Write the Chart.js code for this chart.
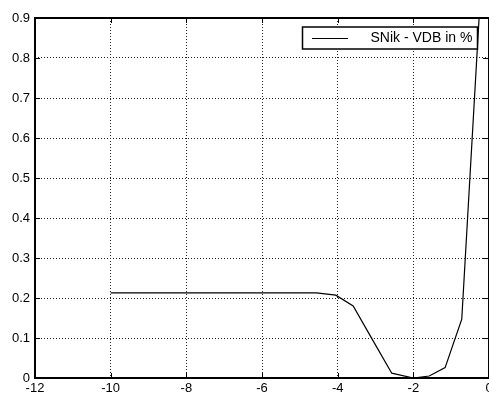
<!DOCTYPE html>
<html>
<head>
<meta charset="utf-8">
<script src="https://cdn.jsdelivr.net/npm/chart.js@4.4.0/dist/chart.umd.min.js"></script>
<style>
  html, body { margin: 0; padding: 0; background: #fff; }
  #wrap { width: 489px; height: 395px; position: relative; }
</style>
</head>
<body>
<div id="wrap"><canvas id="chart"></canvas></div>
<script>
// values
const seriesLabel = 'SNik - VDB in %';
const xValues = [-10, -9, -8, -7, -6, -5, -4.56, -4.05, -3.59, -3.1, -2.57, -2.0, -1.58, -1.16, -0.72, -0.25];
const yValues = [0.213, 0.213, 0.213, 0.213, 0.213, 0.213, 0.213, 0.207, 0.18, 0.099, 0.012, 0.0, 0.005, 0.026, 0.147, 0.92];
const xTicks = [-12, -10, -8, -6, -4, -2, 0];
const yTicks = [0, 0.1, 0.2, 0.3, 0.4, 0.5, 0.6, 0.7, 0.8, 0.9];

const FONT = 'Liberation Sans, Arial, Helvetica, sans-serif';

// box round the plot, inward ticks on all four sides, legend in the corner
const matlabBox = {
  id: 'matlabBox',
  afterDraw(chart) {
    const ctx = chart.ctx;
    const a = chart.chartArea;
    const xs = chart.scales.x, ys = chart.scales.y;
    const L = 35, R = 488, T = Math.round(a.top), B = Math.round(a.bottom);
    ctx.save();
    ctx.strokeStyle = '#000';
    ctx.lineWidth = 1;
    ctx.beginPath();
    xTicks.forEach(v => {
      const px = Math.round(xs.getPixelForValue(v)) + 0.5;
      ctx.moveTo(px, B); ctx.lineTo(px, B - 5);
      ctx.moveTo(px, T); ctx.lineTo(px, T + 5);
    });
    yTicks.forEach(v => {
      const py = Math.round(ys.getPixelForValue(v)) + 0.5;
      ctx.moveTo(L, py); ctx.lineTo(L + 5, py);
      ctx.moveTo(R, py); ctx.lineTo(R - 5, py);
    });
    ctx.stroke();

    ctx.lineWidth = 2;
    ctx.strokeRect(L, T, R - L + 1, B - T);

    // legend
    ctx.lineWidth = 1.5;
    ctx.fillStyle = '#fff';
    ctx.fillRect(302.5, 27, 175, 22);
    ctx.strokeRect(302.5, 27, 175, 22);
    ctx.lineWidth = 1;
    ctx.beginPath();
    ctx.moveTo(312, 38.5); ctx.lineTo(348, 38.5);
    ctx.stroke();
    ctx.fillStyle = '#000';
    ctx.font = '14px ' + FONT;
    ctx.textBaseline = 'middle';
    ctx.fillText(chart.data.datasets[0].label, 370.5, 38.5);
    ctx.restore();
  }
};

new Chart(document.getElementById('chart'), {
  type: 'scatter',
  data: {
    datasets: [{
      label: seriesLabel,
      data: xValues.map((x, i) => ({ x: x, y: yValues[i] })),
      showLine: true,
      borderColor: '#000',
      borderWidth: 1.2,
      pointRadius: 0,
      tension: 0
    }]
  },
  options: {
    responsive: true,
    maintainAspectRatio: false,
    animation: false,
    layout: { padding: { top: 18, right: 0, left: 0, bottom: 0 } },
    plugins: { legend: { display: false }, tooltip: { enabled: false } },
    scales: {
      x: {
        type: 'linear',
        min: -12, max: 0,
        afterBuildTicks: s => { s.ticks = xTicks.map(v => ({ value: v })); },
        afterFit: s => { s.height = 17; s.paddingLeft = 0; s.paddingRight = 0; },
        ticks: { color: '#000', font: { family: FONT, size: 13 }, padding: 3, maxRotation: 0 },
        grid: { color: '#222', drawTicks: false },
        border: { display: false, dash: [1, 2] }
      },
      y: {
        min: 0, max: 0.9,
        afterBuildTicks: s => { s.ticks = yTicks.map(v => ({ value: v })); },
        afterFit: s => { s.width = 35; s.paddingTop = 0; s.paddingBottom = 0; },
        ticks: { color: '#000', font: { family: FONT, size: 13 }, padding: 5,
                 callback: v => String(Math.round(v * 10) / 10) },
        grid: { color: '#222', drawTicks: false },
        border: { display: false, dash: [1, 2] }
      }
    }
  },
  plugins: [matlabBox]
});
</script>
</body>
</html>
